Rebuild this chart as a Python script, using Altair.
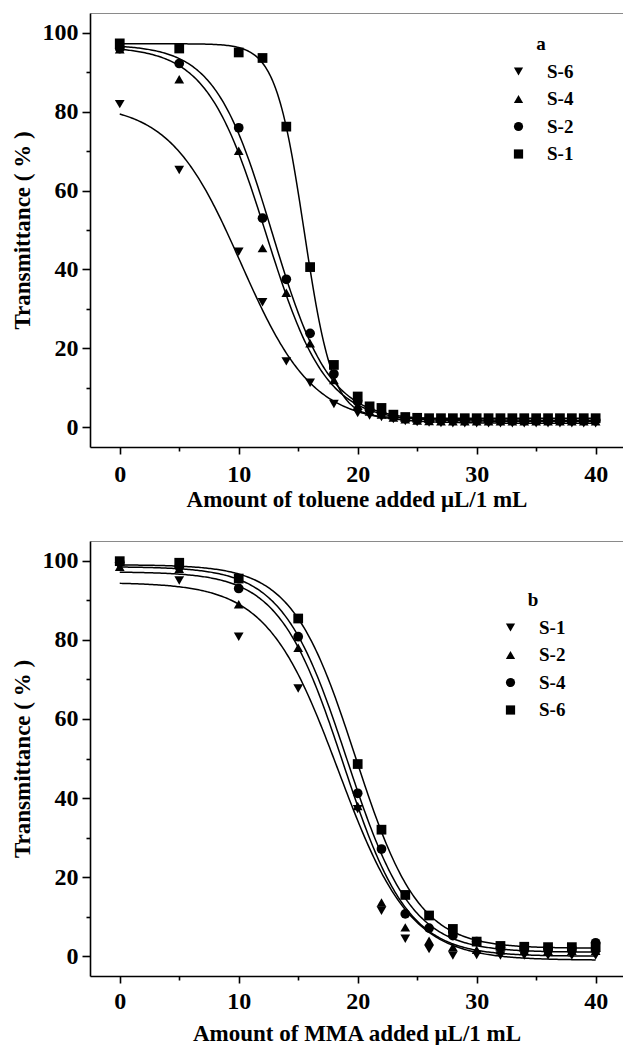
import altair as alt
import numpy as np
import pandas as pd

FONT = "Liberation Serif"

# ---------------- (a) toluene titration ----------------
tol_x = [0, 5, 10, 12, 14, 16, 18, 20, 21, 22, 23, 24, 25, 26, 27, 28, 29, 30,
         31, 32, 33, 34, 35, 36, 37, 38, 39, 40]
tol_s6 = [81.9, 65.2, 44.5, 31.7, 16.7, 11.3, 5.9, 3.6, 3.0, 2.6, 2.1, 1.6, 1.3, 1.2,
          1.1, 1.0, 1.0, 1.0, 1.0, 1.0, 1.0, 1.0, 1.0, 1.0, 1.0, 1.0, 1.0, 1.0]
tol_s4 = [95.8, 88.2, 70.1, 45.4, 34.1, 21.3, 12.0, 5.5, 4.0, 3.2, 2.5, 2.0, 1.7, 1.6,
          1.5, 1.5, 1.5, 1.5, 1.5, 1.5, 1.5, 1.5, 1.5, 1.5, 1.5, 1.5, 1.5, 1.5]
tol_s2 = [96.0, 92.2, 75.9, 53.0, 37.5, 23.8, 13.5, 6.5, 4.5, 3.6, 2.8, 2.3, 2.0, 1.9,
          1.8, 1.8, 1.8, 1.8, 1.8, 1.8, 1.8, 1.8, 1.8, 1.8, 1.8, 1.8, 1.8, 1.8]
tol_s1 = [97.3, 96.0, 95.0, 93.6, 76.2, 40.6, 15.8, 7.8, 5.3, 4.9, 3.2, 2.6, 2.4, 2.3,
          2.3, 2.3, 2.3, 2.3, 2.3, 2.3, 2.3, 2.3, 2.3, 2.3, 2.3, 2.3, 2.3, 2.3]
tol_names = ["S-6", "S-4", "S-2", "S-1"]
# Boltzmann fit for each sample: T = A2 + (A1 - A2) / (1 + exp((x - x0) / dx))
tol_A1 = [82.0, 96.5, 97.0, 97.2]
tol_A2 = [1.0, 1.5, 1.8, 2.3]
tol_x0 = [10.2, 12.3, 12.8, 15.5]
tol_dx = [3.0, 2.5, 2.4, 1.2]

# ---------------- (b) MMA titration ----------------
mma_x = [0, 5, 10, 15, 20, 22, 24, 26, 28, 30, 32, 34, 36, 38, 40]
mma_s1 = [98.5, 95.0, 80.8, 67.7, 37.2, 11.5, 4.4, 1.8, 0.2, 0.3, 0.2, 0.2, 0.2, 0.2, 0.2]
mma_s2 = [98.5, 98.0, 89.0, 78.0, 38.0, 13.6, 7.3, 3.9, 2.3, 1.6, 1.5, 1.4, 1.4, 1.4, 1.4]
mma_s4 = [99.6, 98.5, 93.0, 80.8, 41.2, 27.1, 10.7, 7.1, 5.2, 3.7, 2.3, 2.1, 2.0, 2.0, 3.4]
mma_s6 = [99.9, 99.5, 95.5, 85.4, 48.6, 32.0, 15.5, 10.3, 6.9, 3.7, 2.6, 2.4, 2.3, 2.3, 2.3]
mma_names = ["S-1", "S-2", "S-4", "S-6"]
mma_A1 = [94.5, 97.2, 98.5, 99.0]
mma_A2 = [-1.0, 0.0, 1.0, 2.0]
mma_x0 = [18.4, 18.8, 19.1, 19.8]
mma_dx = [3.0, 2.7, 2.7, 2.65]

marker_shapes = ["triangle-down", "triangle-up", "circle", "square"]
fit_grid = np.linspace(0, 40, 321)

X_TICKS = [0, 5, 10, 15, 20, 25, 30, 35, 40]
Y_TICKS = [0, 10, 20, 30, 40, 50, 60, 70, 80, 90, 100]


def panel(xs, series, names, A1, A2, x0, dx, x_title, tag, legend_x, legend_y,
          height, label_pad, title_pad):
    pts = pd.DataFrame(
        [{"x": x, "T": v, "name": n} for n, vals in zip(names, series) for x, v in zip(xs, vals)]
    )
    params = pd.DataFrame({"name": names, "A1": A1, "A2": A2, "x0": x0, "dx": dx})
    fit = params.merge(pd.DataFrame({"x": fit_grid}), how="cross")

    xscale = alt.Scale(domain=[-2.5, 42.3], nice=False, zero=False)
    yscale = alt.Scale(domain=[-5, 105], nice=False, zero=False)

    x_bottom = alt.Axis(
        orient="bottom", values=X_TICKS, title=x_title, grid=False,
        labelExpr="datum.value % 10 === 0 ? datum.label : ''",
        tickSize={"condition": {"test": "datum.value % 10 === 0", "value": 7}, "value": 4},
        labelPadding=label_pad, titlePadding=title_pad,
    )
    x_top = alt.Axis(
        orient="top", labels=False, ticks=False, title=None, grid=False,
        domainColor="#8a8a8a", domainWidth=1,
    )
    y_axis = alt.Axis(
        values=Y_TICKS, title="Transmittance ( % )", grid=False,
        labelExpr="datum.value % 20 === 0 ? datum.label : ''",
        tickSize={"condition": {"test": "datum.value % 20 === 0", "value": 8}, "value": 4},
        labelPadding=4, titlePadding=8,
    )

    lines = alt.Chart(fit).transform_calculate(
        T="datum.A2 + (datum.A1 - datum.A2) / (1 + exp((datum.x - datum.x0) / datum.dx))"
    ).mark_line(color="black", strokeWidth=1.5).encode(
        x=alt.X("x:Q", scale=xscale, axis=x_top),
        y=alt.Y("T:Q", scale=yscale, axis=y_axis),
        detail="name:N",
    )

    points = alt.Chart(pts).mark_point(
        filled=True, size=95, color="black", opacity=1
    ).encode(
        x=alt.X("x:Q", scale=xscale, axis=x_bottom),
        y=alt.Y("T:Q", scale=yscale, axis=y_axis),
        shape=alt.Shape(
            "name:N",
            scale=alt.Scale(domain=names, range=marker_shapes),
            legend=alt.Legend(
                title=tag, orient="none", legendX=legend_x, legendY=legend_y,
                titleAnchor="middle", titlePadding=8, rowPadding=7.5,
                labelOffset=19, padding=0,
            ),
        ),
    )

    return alt.layer(lines, points).resolve_axis(x="independent").properties(
        width=533, height=height
    )


chart_a = panel(tol_x, [tol_s6, tol_s4, tol_s2, tol_s1], tol_names,
                tol_A1, tol_A2, tol_x0, tol_dx,
                "Amount of toluene added \u03bcL/1 mL", "a", 419, 22, 434, 8, 2)
chart_b = panel(mma_x, [mma_s1, mma_s2, mma_s4, mma_s6], mma_names,
                mma_A1, mma_A2, mma_x0, mma_dx,
                "Amount of MMA added \u03bcL/1 mL", "b", 411, 50, 435, 6, 9)

chart = alt.vconcat(chart_a, chart_b, spacing=30).resolve_scale(
    shape="independent", x="independent", y="independent"
).properties(
    padding={"left": 11, "top": 13, "right": 0, "bottom": 0}
).configure_view(stroke=None).configure_axis(
    labelFont=FONT, titleFont=FONT, labelFontWeight="bold", titleFontWeight="bold",
    labelFontSize=24, titleFontSize=23, labelColor="black", titleColor="black",
    domainColor="black", tickColor="black", domainWidth=1.6, tickWidth=1.6,
).configure_legend(
    labelFont=FONT, titleFont=FONT, labelFontWeight="bold", titleFontWeight="bold",
    labelFontSize=19, titleFontSize=19, labelColor="black", titleColor="black",
    symbolSize=85, symbolFillColor="black", symbolStrokeColor="black",
)

chart.save("out.html", embed_options={"renderer": "svg", "actions": False})
